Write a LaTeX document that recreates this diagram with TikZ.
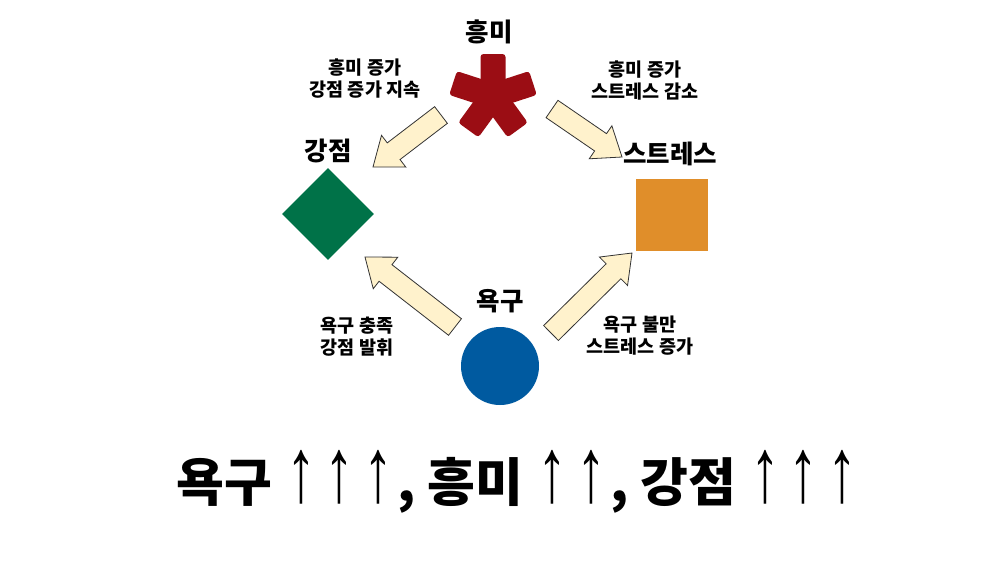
\documentclass[tikz,border=0pt]{standalone}
\usepackage{fontspec}
\setmainfont{Noto Sans CJK KR}
\newfontfamily\arrowfont{Liberation Sans}
\usetikzlibrary{calc,shapes.geometric}
\definecolor{astred}{RGB}{155,13,20}
\definecolor{dgreen}{RGB}{0,114,72}
\definecolor{sorange}{RGB}{224,142,42}
\definecolor{cblue}{RGB}{0,90,160}
\definecolor{cream}{RGB}{255,242,204}
\newcommand\blockarrow[1]{%
  \coordinate (#1b) at ($(#1p)!26pt!(#1t)$);
  \draw[barrow] ($(#1t)!10.5pt!90:(#1p)$) -- ($(#1b)!10.5pt!-90:(#1t)$) -- ($(#1b)!20pt!-90:(#1t)$) -- (#1p) -- ($(#1b)!20pt!90:(#1t)$) -- ($(#1b)!10.5pt!90:(#1t)$) -- ($(#1t)!10.5pt!-90:(#1p)$) -- cycle;}
\newcommand\upa{\makebox[38.5pt][c]{\scalebox{1.15}[1.75]{\arrowfont\mdseries ↑}}}
\begin{document}
\begin{tikzpicture}[x=1pt,y=-1pt,
  barrow/.style={fill=cream,draw=black!80,line width=0.8pt,line join=miter},
  biglabel/.style={font=\fontsize{25.5}{28}\selectfont\bfseries,inner sep=0pt},
  smalllabel/.style={font=\fontsize{18.5}{22}\selectfont\bfseries,align=center,inner sep=0pt},
  shapenode/.style={inner sep=0pt,draw=none}]
\useasboundingbox (0,0) rectangle (1000,563);
\fill[white] (0,0) rectangle (1000,563);
% asterisk
\begin{scope}[shift={(493,96)},yscale=-1]
  \foreach \a in {-90,-162,-234,-306,-18}
    \fill[astred,rotate=\a,rounded corners=3pt] (-4,-12.5) rectangle (42,12.5);
\end{scope}
\coordinate (ast) at (493,96);
% shapes
\node[shapenode,diamond,fill=dgreen,minimum width=92pt,minimum height=92pt] (strength) at (328,214) {};
\node[shapenode,rectangle,fill=sorange,minimum width=72pt,minimum height=72pt] (stress) at (671.5,214.5) {};
\node[shapenode,circle,fill=cblue,minimum size=78pt] (need) at (500,366) {};
% big labels
\node[biglabel] (linterest) at (489,32) {흥미};
\node[biglabel] (lstrength) at (328,151) {강점};
\node[biglabel] (lstress) at (670,154) {스트레스};
\node[biglabel] (lneed) at (500,301) {욕구};
% small labels
\node[smalllabel] (s1) at (365,79) {흥미 증가\\강점 증가 지속};
\node[smalllabel] (s2) at (645,81) {흥미 증가\\스트레스 감소};
\node[smalllabel] (s3) at (357,337) {욕구 충족\\강점 발휘};
\node[smalllabel] (s4) at (640,336) {욕구 불만\\스트레스 증가};
% block arrows
\coordinate (a1t) at (441,115); \coordinate (a1p) at (373,167);
\coordinate (a2t) at (552,109); \coordinate (a2p) at (622,157);
\coordinate (a3t) at (455,327); \coordinate (a3p) at (365,257);
\coordinate (a4t) at (551,333); \coordinate (a4p) at (632,253);
\blockarrow{a1}\blockarrow{a2}\blockarrow{a3}\blockarrow{a4}
% bottom line
\node[inner sep=0pt,font=\fontsize{52}{60}\selectfont\bfseries] (summary) at (519,482)
  {욕구\hspace{10pt}\upa\upa\upa, 흥미\hspace{10pt}\upa\upa, 강점\hspace{10pt}\upa\upa\upa};
\end{tikzpicture}
\end{document}
